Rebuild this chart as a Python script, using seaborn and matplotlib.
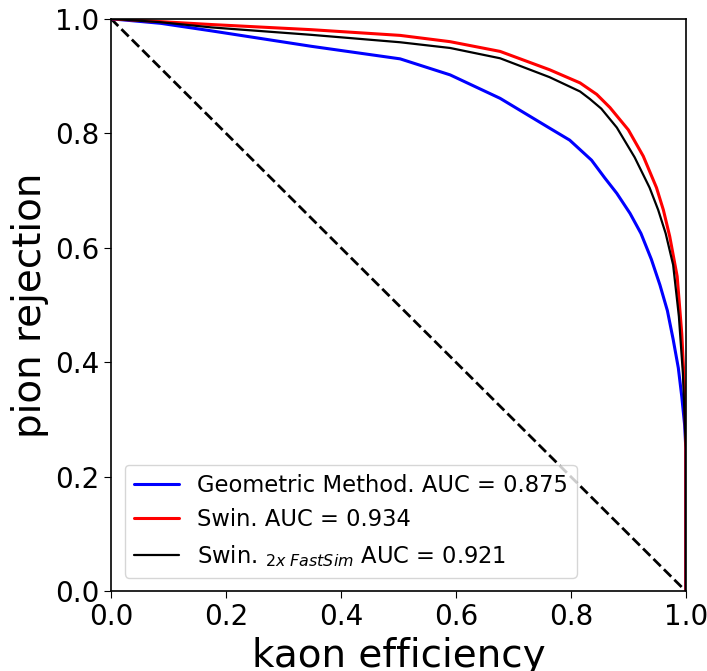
import numpy as np
import pandas as pd
import seaborn as sns
import matplotlib
matplotlib.use("Agg")
import matplotlib.pyplot as plt

# ROC points (kaon efficiency, pion rejection)
geo_eff = [0.0, 0.087, 0.174, 0.348, 0.503, 0.590, 0.677, 0.763, 0.798, 0.836, 0.859, 0.880,
           0.903, 0.922, 0.940, 0.955, 0.968, 0.978, 0.987, 0.993, 0.998, 1.0, 1.0]
geo_rej = [1.0, 0.992, 0.979, 0.952, 0.930, 0.902, 0.861, 0.809, 0.788, 0.753, 0.722, 0.695,
           0.660, 0.625, 0.580, 0.535, 0.490, 0.440, 0.390, 0.340, 0.290, 0.250, 0.0]

swin_eff = [0.0, 0.087, 0.174, 0.348, 0.503, 0.590, 0.677, 0.763, 0.816, 0.845, 0.868, 0.900,
            0.926, 0.949, 0.961, 0.972, 0.985, 0.993, 0.998, 1.0, 1.0]
swin_rej = [1.0, 0.995, 0.990, 0.981, 0.971, 0.960, 0.943, 0.911, 0.888, 0.868, 0.845, 0.806,
            0.760, 0.705, 0.666, 0.620, 0.550, 0.450, 0.350, 0.250, 0.0]

fast_eff = [0.0, 0.087, 0.174, 0.348, 0.503, 0.590, 0.677, 0.763, 0.816, 0.833, 0.853, 0.880,
            0.911, 0.937, 0.952, 0.965, 0.978, 0.988, 0.995, 1.0, 1.0]
fast_rej = [1.0, 0.994, 0.985, 0.972, 0.959, 0.949, 0.931, 0.898, 0.873, 0.860, 0.843, 0.810,
            0.758, 0.705, 0.666, 0.625, 0.570, 0.480, 0.380, 0.250, 0.0]

labels = ["Geometric Method. AUC = 0.875",
          "Swin. AUC = 0.934",
          r"Swin. $_{2x\ FastSim}$ AUC = 0.921"]

sns.set_style("white")
plt.rcParams["font.family"] = ["DejaVu Sans"]
plt.rcParams["text.color"] = "black"
plt.rcParams["axes.labelcolor"] = "black"
plt.rcParams["xtick.color"] = "black"
plt.rcParams["ytick.color"] = "black"

fig = plt.figure(figsize=(7.07, 6.71), dpi=100)
ax = fig.add_axes([0.157, 0.119, 0.813, 0.853])

# chance line
diag = pd.DataFrame({"x": [0.0, 1.0], "y": [1.0, 0.0]})
sns.lineplot(data=diag, x="x", y="y", ax=ax, color="black", lw=2, linestyle="--",
             sort=False, estimator=None)

curves = [(geo_eff, geo_rej, "blue", 2.2),
          (swin_eff, swin_rej, "red", 2.2),
          (fast_eff, fast_rej, "black", 1.6)]
for (eff, rej, col, lw), lab in zip(curves, labels):
    df = pd.DataFrame({"eff": eff, "rej": rej})
    sns.lineplot(data=df, x="eff", y="rej", ax=ax, color=col, lw=lw, label=lab,
                 sort=False, estimator=None)

ax.set_xlim(0, 1)
ax.set_ylim(0, 1)
ax.set_xlabel("kaon efficiency", fontsize=28)
ax.set_ylabel("pion rejection", fontsize=28)
ax.tick_params(labelsize=20, direction="out", length=5, left=True, bottom=True)
for sp in ax.spines.values():
    sp.set_color("black")
    sp.set_linewidth(1.2)

leg = ax.legend(loc="lower left", fontsize=16.3, frameon=True, borderaxespad=0.6)
for t in leg.get_texts():
    t.set_color("black")

fig.savefig("out.png", dpi=100)
